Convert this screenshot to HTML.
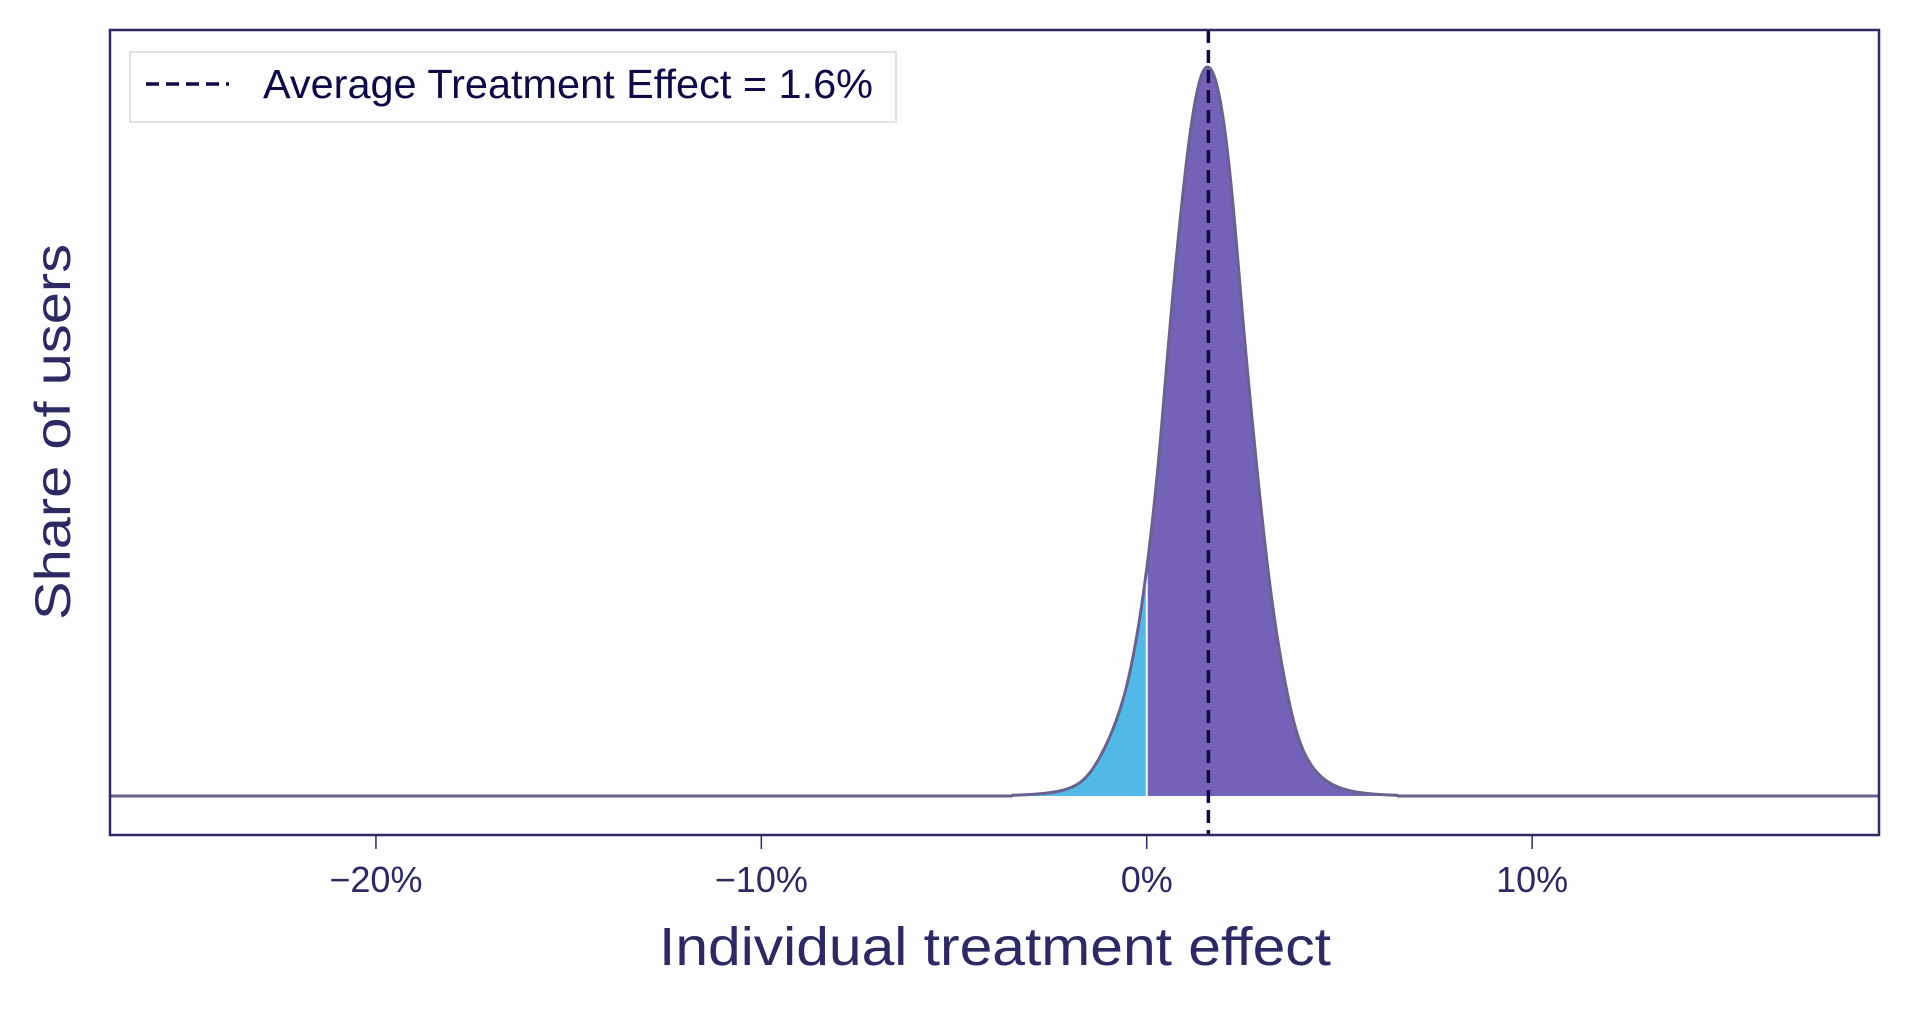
<!DOCTYPE html>
<html><head><meta charset="utf-8"><style>
html,body{margin:0;padding:0;background:#fefdfe;}
svg{display:block;font-family:"Liberation Sans",Arial,sans-serif;}
</style></head><body>
<svg id="chart" width="1909" height="1009" viewBox="0 0 1909 1009" xmlns="http://www.w3.org/2000/svg">
<rect x="0" y="0" width="1909" height="1009" fill="#fefdfe"/>
<g id="marks"></g>
<rect x="110" y="30" width="1769" height="805" fill="none" stroke="#2d2a63" stroke-width="2.5"/>
<g id="ticks"></g>
<text x="995" y="965" text-anchor="middle" font-size="54" fill="#2d2a63" textLength="672" lengthAdjust="spacingAndGlyphs">Individual treatment effect</text>
<text transform="translate(70,432) rotate(-90)" text-anchor="middle" font-size="50" fill="#2d2a63" textLength="376" lengthAdjust="spacingAndGlyphs">Share of users</text>
<g>
<rect x="130" y="52" width="766" height="70" fill="#fefdfe" stroke="#d8d8de" stroke-width="1.5"/>
<line x1="146" y1="84" x2="229" y2="84" stroke="#0d0a45" stroke-width="3.5" stroke-dasharray="13,7"/>
<text x="263" y="98" font-size="41" fill="#0d0a45" textLength="610" lengthAdjust="spacingAndGlyphs">Average Treatment Effect = 1.6%</text>
</g>
</svg>
<script>
// distribution: effect (%) and relative density
const effectValues = [-3.5,-1.95,-1.17,-0.485,-0.05,0.242,0.571,0.934,1.58,2.215,2.544,2.907,3.19,3.58,4.10,4.98,6.5];
const densityValues = [0.001,0.012,0.058,0.159,0.292,0.425,0.624,0.824,1,0.824,0.624,0.425,0.292,0.159,0.058,0.012,0.001];
const tickValues = [-20,-10,0,10];
const tickLabels = ["\u221220%","\u221210%","0%","10%"];
const ateValue = 1.6;

const X0=110,X1=1879,XMIN=-26.9,XMAX=19.0;
const xS=v=>X0+(v-XMIN)/(XMAX-XMIN)*(X1-X0);
const BASE=796,PEAK=67;
const yS=h=>BASE-h*(BASE-PEAK);
const NS="http://www.w3.org/2000/svg";
const marks=document.getElementById('marks');
const ticks=document.getElementById('ticks');

// cubic Hermite interpolation in log-density space
function sampler(xs,hs){
  const ys=hs.map(h=>Math.log(h));
  const n=xs.length,d=[],m=[];
  for(let i=0;i<n-1;i++)d.push((ys[i+1]-ys[i])/(xs[i+1]-xs[i]));
  m[0]=d[0];m[n-1]=d[n-2];
  for(let i=1;i<n-1;i++){const w1=xs[i+1]-xs[i],w0=xs[i]-xs[i-1];m[i]=(d[i-1]*w1+d[i]*w0)/(w0+w1);}
  return v=>{
    if(v<xs[0]||v>xs[n-1])return 0;
    let i=0;while(i<n-2&&v>xs[i+1])i++;
    const h=xs[i+1]-xs[i],t=(v-xs[i])/h;
    const h00=2*t*t*t-3*t*t+1,h10=t*t*t-2*t*t+t,h01=-2*t*t*t+3*t*t,h11=t*t*t-t*t;
    return Math.exp(h00*ys[i]+h10*h*m[i]+h01*ys[i+1]+h11*h*m[i+1]);
  };
}
const f=sampler(effectValues,densityValues);
function areaPath(a,b){
  let p=`M${xS(a)},${BASE}`;
  for(let v=a;v<=b+1e-9;v+=0.02)p+=`L${xS(v).toFixed(2)},${yS(f(v)).toFixed(2)}`;
  p+=`L${xS(b)},${yS(f(b))}L${xS(b)},${BASE}Z`;return p;
}
function linePath(a,b){
  let p='';
  for(let v=a;v<=b+1e-9;v+=0.02)p+=(p?'L':'M')+`${xS(v).toFixed(2)},${yS(f(v)).toFixed(2)}`;
  return p;
}
const lo=effectValues[0],hi=effectValues[effectValues.length-1];
const neg=document.createElementNS(NS,'path');
neg.setAttribute('d',areaPath(lo,0));neg.setAttribute('fill','#52b8e6');


marks.appendChild(neg);
const pos=document.createElementNS(NS,'path');
pos.setAttribute('d',areaPath(0,hi));pos.setAttribute('fill','#7462b8');


marks.appendChild(pos);
const sep=document.createElementNS(NS,'line');
sep.setAttribute('x1',xS(0));sep.setAttribute('x2',xS(0));
sep.setAttribute('y1',BASE);sep.setAttribute('y2',yS(f(0)));
sep.setAttribute('stroke','#ffffff');sep.setAttribute('stroke-width','2');


marks.appendChild(sep);
const curve=document.createElementNS(NS,'path');
curve.setAttribute('d',linePath(XMIN,XMAX));curve.setAttribute('fill','none');
curve.setAttribute('stroke','#676290');curve.setAttribute('stroke-width','3');


marks.appendChild(curve);
const ate=document.createElementNS(NS,'line');
ate.setAttribute('x1',xS(ateValue));ate.setAttribute('x2',xS(ateValue));
ate.setAttribute('y1',30);ate.setAttribute('y2',835);
ate.setAttribute('stroke','#0d0a45');ate.setAttribute('stroke-width','3.5');
ate.setAttribute('stroke-dasharray','13,7');


marks.appendChild(ate);

tickValues.forEach((v,i)=>{
  const t=document.createElementNS(NS,'line');
  t.setAttribute('x1',xS(v));t.setAttribute('x2',xS(v));
  t.setAttribute('y1',835);t.setAttribute('y2',849);
  t.setAttribute('stroke','#2d2a63');t.setAttribute('stroke-width','1.5');
  
  
  ticks.appendChild(t);
  const l=document.createElementNS(NS,'text');
  l.setAttribute('x',xS(v));l.setAttribute('y',892);
  l.setAttribute('text-anchor','middle');l.setAttribute('font-size','36');
  l.setAttribute('fill','#2d2a63');
  l.textContent=tickLabels[i];
  
  
  ticks.appendChild(l);
});
</script>
</body></html>
